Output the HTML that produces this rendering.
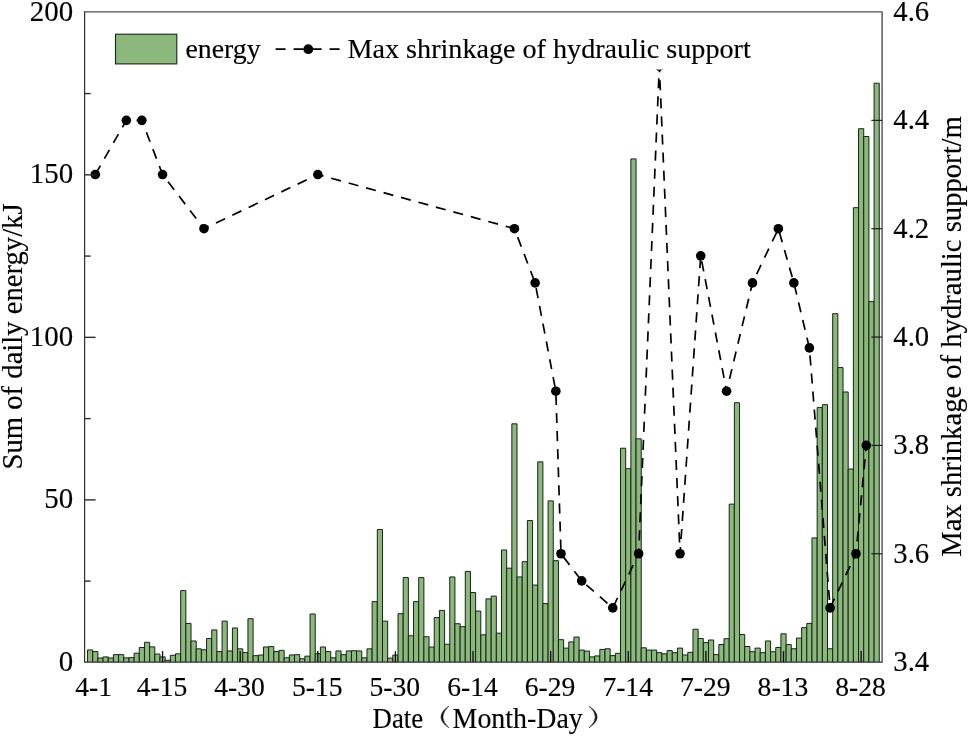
<!DOCTYPE html>
<html><head><meta charset="utf-8"><title>chart</title>
<style>html,body{margin:0;padding:0;background:#fff;width:968px;height:736px;overflow:hidden}svg{display:block;will-change:transform}text{font-family:"Liberation Serif",serif;fill:#000;stroke:#000;stroke-width:0.15px}</style></head><body>
<svg width="968" height="736" viewBox="0 0 968 736">
<rect x="0" y="0" width="968" height="736" fill="#fff"/>
<g fill="#8cb87b" stroke="#15231a" stroke-width="1">
<path d="M87.54 662.1V649.94H92.71V662.1"/>
<path d="M92.71 662.1V651.57H97.89V662.1"/>
<path d="M97.89 662.1V658.00H103.06V662.1"/>
<path d="M103.06 662.1V656.90H108.24V662.1"/>
<path d="M108.24 662.1V658.00H113.41V662.1"/>
<path d="M113.41 662.1V654.66H118.58V662.1"/>
<path d="M118.58 662.1V654.66H123.76V662.1"/>
<path d="M123.76 662.1V657.87H128.93V662.1"/>
<path d="M128.93 662.1V657.65H134.11V662.1"/>
<path d="M134.11 662.1V653.16H139.28V662.1"/>
<path d="M139.28 662.1V647.47H144.46V662.1"/>
<path d="M144.46 662.1V642.27H149.63V662.1"/>
<path d="M149.63 662.1V646.86H154.81V662.1"/>
<path d="M154.81 662.1V654.04H159.98V662.1"/>
<path d="M159.98 662.1V656.90H165.16V662.1"/>
<path d="M165.16 662.1V660.25H170.33V662.1"/>
<path d="M170.33 662.1V655.27H175.51V662.1"/>
<path d="M175.51 662.1V653.81H180.68V662.1"/>
<path d="M180.68 662.1V590.59H185.85V662.1"/>
<path d="M185.85 662.1V623.42H191.03V662.1"/>
<path d="M191.03 662.1V640.97H196.20V662.1"/>
<path d="M196.20 662.1V648.84H201.38V662.1"/>
<path d="M201.38 662.1V649.75H206.55V662.1"/>
<path d="M206.55 662.1V638.53H211.73V662.1"/>
<path d="M211.73 662.1V629.92H216.90V662.1"/>
<path d="M216.90 662.1V651.57H222.08V662.1"/>
<path d="M222.08 662.1V621.14H227.25V662.1"/>
<path d="M227.25 662.1V650.95H232.43V662.1"/>
<path d="M232.43 662.1V627.97H237.60V662.1"/>
<path d="M237.60 662.1V648.84H242.78V662.1"/>
<path d="M242.78 662.1V652.54H247.95V662.1"/>
<path d="M247.95 662.1V618.71H253.12V662.1"/>
<path d="M253.12 662.1V655.66H258.30V662.1"/>
<path d="M258.30 662.1V655.05H263.47V662.1"/>
<path d="M263.47 662.1V646.99H268.65V662.1"/>
<path d="M268.65 662.1V646.60H273.82V662.1"/>
<path d="M273.82 662.1V651.57H279.00V662.1"/>
<path d="M279.00 662.1V650.33H284.17V662.1"/>
<path d="M284.17 662.1V657.78H289.35V662.1"/>
<path d="M289.35 662.1V654.95H294.52V662.1"/>
<path d="M294.52 662.1V654.66H299.70V662.1"/>
<path d="M299.70 662.1V658.75H304.87V662.1"/>
<path d="M304.87 662.1V656.15H310.05V662.1"/>
<path d="M310.05 662.1V613.99H315.22V662.1"/>
<path d="M315.22 662.1V653.65H320.39V662.1"/>
<path d="M320.39 662.1V646.99H325.57V662.1"/>
<path d="M325.57 662.1V651.57H330.74V662.1"/>
<path d="M330.74 662.1V657.78H335.92V662.1"/>
<path d="M335.92 662.1V650.95H341.09V662.1"/>
<path d="M341.09 662.1V654.66H346.27V662.1"/>
<path d="M346.27 662.1V650.95H351.44V662.1"/>
<path d="M351.44 662.1V650.72H356.62V662.1"/>
<path d="M356.62 662.1V650.95H361.79V662.1"/>
<path d="M361.79 662.1V657.78H366.97V662.1"/>
<path d="M366.97 662.1V648.84H372.14V662.1"/>
<path d="M372.14 662.1V601.64H377.31V662.1"/>
<path d="M377.31 662.1V529.48H382.49V662.1"/>
<path d="M382.49 662.1V621.14H387.66V662.1"/>
<path d="M387.66 662.1V658.13H392.84V662.1"/>
<path d="M392.84 662.1V655.05H398.01V662.1"/>
<path d="M398.01 662.1V613.67H403.19V662.1"/>
<path d="M403.19 662.1V577.59H408.36V662.1"/>
<path d="M408.36 662.1V635.77H413.54V662.1"/>
<path d="M413.54 662.1V601.64H418.71V662.1"/>
<path d="M418.71 662.1V577.59H423.89V662.1"/>
<path d="M423.89 662.1V636.75H429.06V662.1"/>
<path d="M429.06 662.1V646.99H434.24V662.1"/>
<path d="M434.24 662.1V617.57H439.41V662.1"/>
<path d="M439.41 662.1V610.42H444.58V662.1"/>
<path d="M444.58 662.1V644.22H449.76V662.1"/>
<path d="M449.76 662.1V576.94H454.93V662.1"/>
<path d="M454.93 662.1V623.74H460.11V662.1"/>
<path d="M460.11 662.1V626.67H465.28V662.1"/>
<path d="M465.28 662.1V571.41H470.46V662.1"/>
<path d="M470.46 662.1V592.54H475.63V662.1"/>
<path d="M475.63 662.1V611.07H480.81V662.1"/>
<path d="M480.81 662.1V634.80H485.98V662.1"/>
<path d="M485.98 662.1V598.88H491.16V662.1"/>
<path d="M491.16 662.1V596.11H496.33V662.1"/>
<path d="M496.33 662.1V633.17H501.51V662.1"/>
<path d="M501.51 662.1V549.96H506.68V662.1"/>
<path d="M506.68 662.1V568.16H511.85V662.1"/>
<path d="M511.85 662.1V423.84H517.03V662.1"/>
<path d="M517.03 662.1V576.94H522.20V662.1"/>
<path d="M522.20 662.1V561.66H527.38V662.1"/>
<path d="M527.38 662.1V520.54H532.55V662.1"/>
<path d="M532.55 662.1V585.06H537.73V662.1"/>
<path d="M537.73 662.1V461.87H542.90V662.1"/>
<path d="M542.90 662.1V603.59H548.08V662.1"/>
<path d="M548.08 662.1V500.88H553.25V662.1"/>
<path d="M553.25 662.1V560.68H558.43V662.1"/>
<path d="M558.43 662.1V639.67H563.60V662.1"/>
<path d="M563.60 662.1V648.12H568.78V662.1"/>
<path d="M568.78 662.1V641.95H573.95V662.1"/>
<path d="M573.95 662.1V637.07H579.12V662.1"/>
<path d="M579.12 662.1V650.07H584.30V662.1"/>
<path d="M584.30 662.1V651.05H589.47V662.1"/>
<path d="M589.47 662.1V656.90H594.65V662.1"/>
<path d="M594.65 662.1V655.92H599.82V662.1"/>
<path d="M599.82 662.1V649.42H605.00V662.1"/>
<path d="M605.00 662.1V648.77H610.17V662.1"/>
<path d="M610.17 662.1V655.60H615.35V662.1"/>
<path d="M615.35 662.1V653.32H620.52V662.1"/>
<path d="M620.52 662.1V448.22H625.70V662.1"/>
<path d="M625.70 662.1V468.70H630.87V662.1"/>
<path d="M630.87 662.1V158.92H636.04V662.1"/>
<path d="M636.04 662.1V438.79H641.22V662.1"/>
<path d="M641.22 662.1V647.80H646.39V662.1"/>
<path d="M646.39 662.1V650.07H651.57V662.1"/>
<path d="M651.57 662.1V650.07H656.74V662.1"/>
<path d="M656.74 662.1V652.67H661.92V662.1"/>
<path d="M661.92 662.1V653.81H667.09V662.1"/>
<path d="M667.09 662.1V650.56H672.27V662.1"/>
<path d="M672.27 662.1V652.67H677.44V662.1"/>
<path d="M677.44 662.1V648.12H682.62V662.1"/>
<path d="M682.62 662.1V654.95H687.79V662.1"/>
<path d="M687.79 662.1V652.35H692.97V662.1"/>
<path d="M692.97 662.1V629.27H698.14V662.1"/>
<path d="M698.14 662.1V638.53H703.31V662.1"/>
<path d="M703.31 662.1V642.60H708.49V662.1"/>
<path d="M708.49 662.1V640.00H713.66V662.1"/>
<path d="M713.66 662.1V654.62H718.84V662.1"/>
<path d="M718.84 662.1V644.55H724.01V662.1"/>
<path d="M724.01 662.1V638.70H729.19V662.1"/>
<path d="M729.19 662.1V504.13H734.36V662.1"/>
<path d="M734.36 662.1V402.71H739.54V662.1"/>
<path d="M739.54 662.1V634.47H744.71V662.1"/>
<path d="M744.71 662.1V646.50H749.89V662.1"/>
<path d="M749.89 662.1V651.70H755.06V662.1"/>
<path d="M755.06 662.1V648.12H760.24V662.1"/>
<path d="M760.24 662.1V652.67H765.41V662.1"/>
<path d="M765.41 662.1V640.97H770.58V662.1"/>
<path d="M770.58 662.1V651.70H775.76V662.1"/>
<path d="M775.76 662.1V647.47H780.93V662.1"/>
<path d="M780.93 662.1V633.82H786.11V662.1"/>
<path d="M786.11 662.1V644.55H791.28V662.1"/>
<path d="M791.28 662.1V648.77H796.46V662.1"/>
<path d="M796.46 662.1V638.05H801.63V662.1"/>
<path d="M801.63 662.1V627.64H806.81V662.1"/>
<path d="M806.81 662.1V623.42H811.98V662.1"/>
<path d="M811.98 662.1V537.93H817.16V662.1"/>
<path d="M817.16 662.1V407.59H822.33V662.1"/>
<path d="M822.33 662.1V404.66H827.51V662.1"/>
<path d="M827.51 662.1V648.77H832.68V662.1"/>
<path d="M832.68 662.1V313.65H837.85V662.1"/>
<path d="M837.85 662.1V367.60H843.03V662.1"/>
<path d="M843.03 662.1V391.98H848.20V662.1"/>
<path d="M848.20 662.1V469.02H853.38V662.1"/>
<path d="M853.38 662.1V207.68H858.55V662.1"/>
<path d="M858.55 662.1V128.69H863.73V662.1"/>
<path d="M863.73 662.1V136.49H868.90V662.1"/>
<path d="M868.90 662.1V301.62H874.08V662.1"/>
<path d="M874.08 662.1V83.19H879.25V662.1"/>
</g>
<polyline points="95.30,174.52 126.35,120.35 141.87,120.35 162.57,174.52 203.97,228.70 317.81,174.52 514.44,228.70 535.14,282.88 555.84,391.23 561.01,553.75 581.71,580.84 612.76,607.92 638.63,553.75 659.33,66.17 680.03,553.75 700.73,255.79 726.60,391.23 752.47,282.88 778.35,228.70 793.87,282.88 809.39,347.88 830.09,607.92 855.97,553.75 866.31,445.40" fill="none" stroke="#000" stroke-width="1.7" stroke-dasharray="10.1 8.0" stroke-dashoffset="-0.2"/>
<g fill="#000">
<circle cx="95.30" cy="174.52" r="4.8"/>
<circle cx="126.35" cy="120.35" r="4.8"/>
<circle cx="141.87" cy="120.35" r="4.8"/>
<circle cx="162.57" cy="174.52" r="4.8"/>
<circle cx="203.97" cy="228.70" r="4.8"/>
<circle cx="317.81" cy="174.52" r="4.8"/>
<circle cx="514.44" cy="228.70" r="4.8"/>
<circle cx="535.14" cy="282.88" r="4.8"/>
<circle cx="555.84" cy="391.23" r="4.8"/>
<circle cx="561.01" cy="553.75" r="4.8"/>
<circle cx="581.71" cy="580.84" r="4.8"/>
<circle cx="612.76" cy="607.92" r="4.8"/>
<circle cx="638.63" cy="553.75" r="4.8"/>
<circle cx="659.33" cy="66.17" r="4.8"/>
<circle cx="680.03" cy="553.75" r="4.8"/>
<circle cx="700.73" cy="255.79" r="4.8"/>
<circle cx="726.60" cy="391.23" r="4.8"/>
<circle cx="752.47" cy="282.88" r="4.8"/>
<circle cx="778.35" cy="228.70" r="4.8"/>
<circle cx="793.87" cy="282.88" r="4.8"/>
<circle cx="809.39" cy="347.88" r="4.8"/>
<circle cx="830.09" cy="607.92" r="4.8"/>
<circle cx="855.97" cy="553.75" r="4.8"/>
<circle cx="866.31" cy="445.40" r="4.8"/>
</g>
<rect x="100" y="20" width="670" height="49.6" fill="#fff"/>
<path d="M84.6 11.9 L882.1 11.9 L882.1 662.1" fill="none" stroke="#505050" stroke-width="1.4" stroke-linejoin="round"/>
<line x1="84.6" y1="11.3" x2="84.6" y2="662.1" stroke="#333" stroke-width="1.25"/>
<line x1="84.0" y1="662.15" x2="882.7" y2="662.15" stroke="#2e2e2e" stroke-width="1.3"/>
<g stroke="#2c2c2c" stroke-width="1.4">
<line x1="84.6" y1="581.14" x2="90.6" y2="581.14"/>
<line x1="84.6" y1="499.88" x2="95.6" y2="499.88"/>
<line x1="84.6" y1="418.61" x2="90.6" y2="418.61"/>
<line x1="84.6" y1="337.35" x2="95.6" y2="337.35"/>
<line x1="84.6" y1="256.09" x2="90.6" y2="256.09"/>
<line x1="84.6" y1="174.82" x2="95.6" y2="174.82"/>
<line x1="84.6" y1="93.56" x2="90.6" y2="93.56"/>
<line x1="882.1" y1="553.75" x2="871.3000000000001" y2="553.75" stroke="#111" stroke-width="1.1"/>
<line x1="882.1" y1="445.40" x2="871.3000000000001" y2="445.40" stroke="#111" stroke-width="1.1"/>
<line x1="882.1" y1="337.05" x2="871.3000000000001" y2="337.05" stroke="#111" stroke-width="1.1"/>
<line x1="882.1" y1="228.70" x2="871.3000000000001" y2="228.70" stroke="#111" stroke-width="1.1"/>
<line x1="882.1" y1="120.35" x2="871.3000000000001" y2="120.35" stroke="#111" stroke-width="1.1"/>
<line x1="162.57" y1="662.1" x2="162.57" y2="651.1" stroke="#0c0c0c" stroke-width="1.3"/>
<line x1="240.19" y1="662.1" x2="240.19" y2="651.1" stroke="#0c0c0c" stroke-width="1.3"/>
<line x1="317.81" y1="662.1" x2="317.81" y2="651.1" stroke="#0c0c0c" stroke-width="1.3"/>
<line x1="395.43" y1="662.1" x2="395.43" y2="651.1" stroke="#0c0c0c" stroke-width="1.3"/>
<line x1="473.04" y1="662.1" x2="473.04" y2="651.1" stroke="#0c0c0c" stroke-width="1.3"/>
<line x1="550.66" y1="662.1" x2="550.66" y2="651.1" stroke="#0c0c0c" stroke-width="1.3"/>
<line x1="628.28" y1="662.1" x2="628.28" y2="651.1" stroke="#0c0c0c" stroke-width="1.3"/>
<line x1="705.90" y1="662.1" x2="705.90" y2="651.1" stroke="#0c0c0c" stroke-width="1.3"/>
<line x1="783.52" y1="662.1" x2="783.52" y2="651.1" stroke="#0c0c0c" stroke-width="1.3"/>
<line x1="861.14" y1="662.1" x2="861.14" y2="651.1" stroke="#0c0c0c" stroke-width="1.3"/>
</g>
<g font-size="28.9" text-anchor="end">
<text x="73.2" y="671.00">0</text>
<text x="73.2" y="508.48">50</text>
<text x="73.2" y="345.95">100</text>
<text x="73.2" y="183.42">150</text>
<text x="73.2" y="20.90">200</text>
</g>
<g font-size="28.7" text-anchor="start">
<text x="893.3" y="671.10">3.4</text>
<text x="893.3" y="562.75">3.6</text>
<text x="893.3" y="454.40">3.8</text>
<text x="893.3" y="346.05">4.0</text>
<text x="893.3" y="237.70">4.2</text>
<text x="893.3" y="129.35">4.4</text>
<text x="893.3" y="21.00">4.6</text>
</g>
<g font-size="27.6" text-anchor="middle">
<text x="93.60" y="696">4-1</text>
<text x="161.97" y="696">4-15</text>
<text x="239.59" y="696">4-30</text>
<text x="317.21" y="696">5-15</text>
<text x="394.83" y="696">5-30</text>
<text x="472.44" y="696">6-14</text>
<text x="550.06" y="696">6-29</text>
<text x="627.68" y="696">7-14</text>
<text x="705.30" y="696">7-29</text>
<text x="782.92" y="696">8-13</text>
<text x="860.54" y="696">8-28</text>
</g>
<text x="372.6" y="727.8" font-size="28.5" textLength="50.6" lengthAdjust="spacingAndGlyphs">Date</text>
<text x="452.6" y="727.8" font-size="28.5" textLength="130.2" lengthAdjust="spacingAndGlyphs">Month-Day</text>
<path d="M448.9 706.1 Q433.0 717 448.9 727.9 Q436.9 717 448.9 706.1 Z" fill="#111" stroke="#111" stroke-width="0.5" stroke-linejoin="round"/>
<path d="M589.0 706.1 Q605.3 717 589.0 727.9 Q601.6 717 589.0 706.1 Z" fill="#111" stroke="#111" stroke-width="0.5" stroke-linejoin="round"/>
<text transform="translate(21.7 336.4) rotate(-90)" font-size="28.65" text-anchor="middle">Sum of daily energy/kJ</text>
<text transform="translate(960.5 336.5) rotate(-90)" font-size="28.65" text-anchor="middle">Max shrinkage of hydraulic support/m</text>
<rect x="115.5" y="34.2" width="61.3" height="29.7" fill="#8cb87b" stroke="#15231a" stroke-width="1.1"/>
<text x="185.5" y="57.9" font-size="27.8">energy</text>
<line x1="275.6" y1="49.2" x2="339.8" y2="49.2" stroke="#000" stroke-width="1.7" stroke-dasharray="10 8"/>
<circle cx="308.3" cy="49.2" r="4.9" fill="#000"/>
<text x="347.5" y="57.9" font-size="28.15">Max shrinkage of hydraulic support</text>
</svg></body></html>
